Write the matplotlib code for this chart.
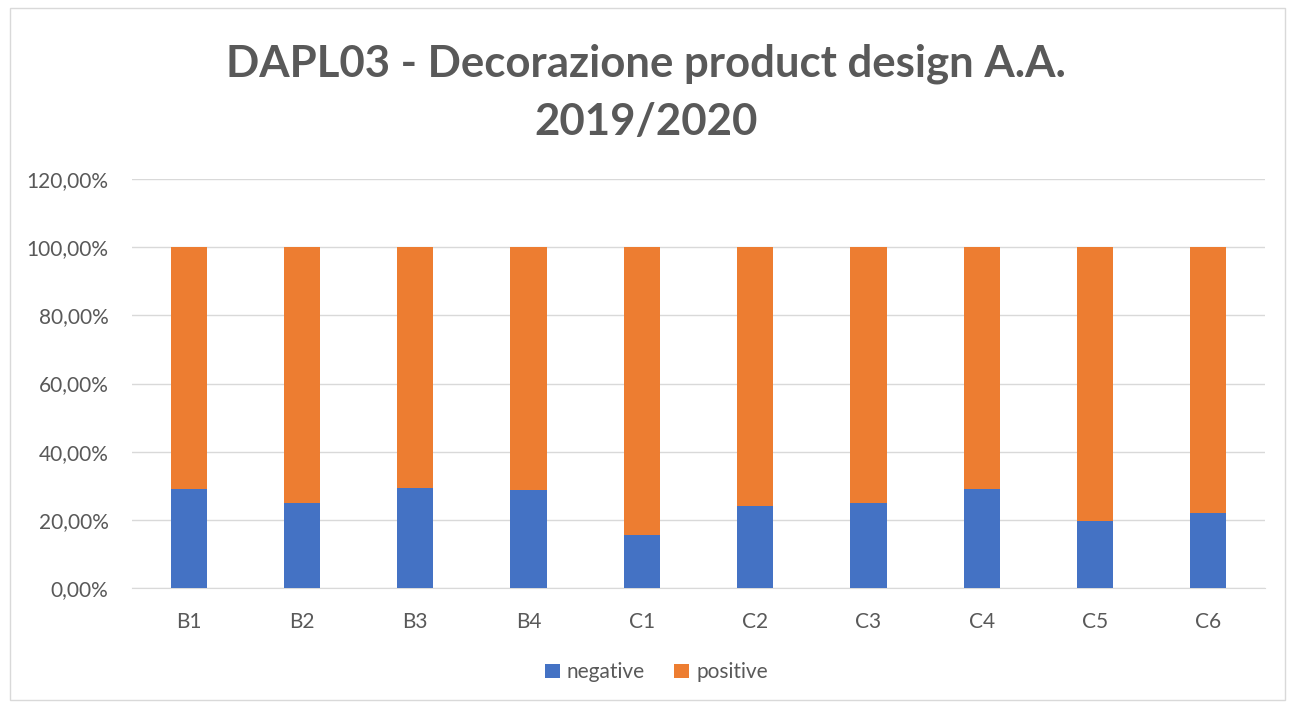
import matplotlib.pyplot as plt
from matplotlib.patches import Rectangle
from matplotlib.ticker import FuncFormatter
import numpy as np

categories = ['B1', 'B2', 'B3', 'B4', 'C1', 'C2', 'C3', 'C4', 'C5', 'C6']
negative = [29.0, 25.0, 29.5, 28.9, 15.5, 24.1, 25.0, 29.0, 19.7, 22.1]
positive = [71.0, 75.0, 70.5, 71.1, 84.5, 75.9, 75.0, 71.0, 80.3, 77.9]

blue = '#4472C4'
orange = '#ED7D31'
txt = '#595959'

plt.rcParams['font.family'] = ['Lato', 'DejaVu Sans']

fig = plt.figure(figsize=(12.92, 7.06), dpi=100)
ax = fig.add_axes([0.1022, 0.167, 0.8768, 0.5795])

x = np.arange(len(categories))
ax.bar(x, negative, width=0.32, color=blue, label='negative', zorder=3)
ax.bar(x, positive, width=0.32, bottom=negative, color=orange, label='positive', zorder=3)

ax.set_xlim(-0.5, len(categories) - 0.5)
ax.set_ylim(0, 120)
ax.set_yticks(np.arange(0, 121, 20))
ax.yaxis.set_major_formatter(FuncFormatter(lambda v, p: f'{v:.2f}'.replace('.', ',') + '%'))
ax.set_xticks(x)
ax.set_xticklabels(categories)
ax.grid(axis='y', color='#D9D9D9', linewidth=1, zorder=0)
for s in ['top', 'right', 'left']:
    ax.spines[s].set_visible(False)
ax.spines['bottom'].set_color('#D9D9D9')
ax.tick_params(axis='both', length=0, labelsize=15, colors=txt)
ax.tick_params(axis='x', pad=17)
ax.tick_params(axis='y', pad=17)

fig.text(0.5, 0.909, 'DAPL03 - Decorazione product design A.A.', ha='center', va='center',
         fontsize=31.5, fontweight='bold', color=txt)
fig.text(0.5, 0.827, '2019/2020', ha='center', va='center',
         fontsize=31.5, fontweight='bold', color=txt)

leg = fig.legend(loc='center', bbox_to_anchor=(0.508, 0.048), ncol=2, frameon=False,
                 fontsize=15, handlelength=0.7, handleheight=0.7, handletextpad=0.35,
                 columnspacing=1.4)
for t in leg.get_texts():
    t.set_color(txt)

fig.patches.append(Rectangle((10 / 1292, 6 / 706), 1275 / 1292, 692 / 706, transform=fig.transFigure,
                             fill=False, edgecolor='#D9D9D9', linewidth=1))

fig.savefig('out.png', dpi=100)
